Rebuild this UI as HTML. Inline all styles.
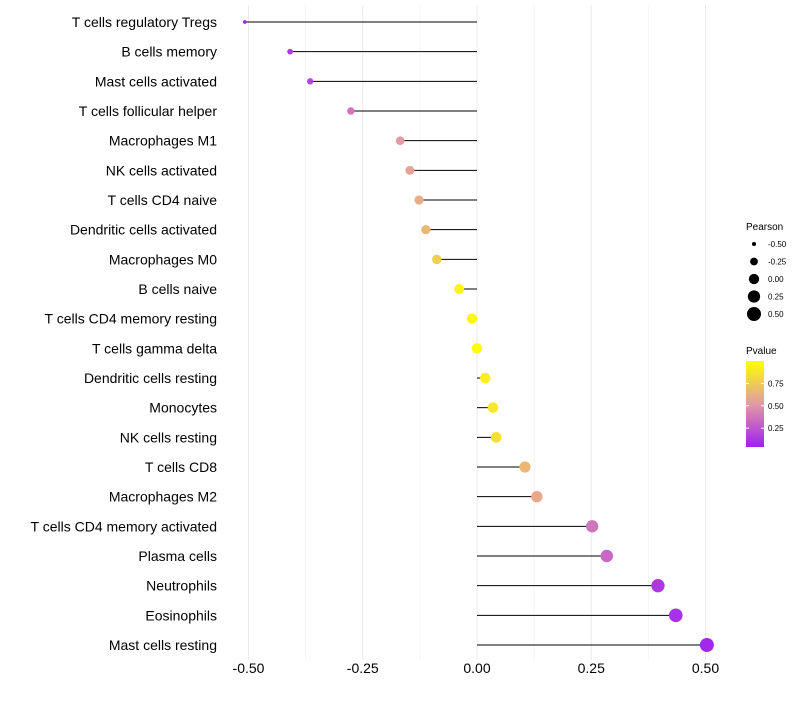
<!DOCTYPE html>
<html><head><meta charset="utf-8"><style>
body{margin:0;background:#fff;font-family:"Liberation Sans",sans-serif;}
</style></head><body>
<svg id="chart" width="800" height="700" xmlns="http://www.w3.org/2000/svg" font-family="Liberation Sans, sans-serif">
<g id="grid"></g>
<g id="marks"></g>
<g id="ylabels"></g>
<g id="xlabels"></g>
<g id="legend-size">
<text x="746" y="230" font-size="10" fill="#000">Pearson</text>
</g>
<g id="legend-color">
<defs><linearGradient id="pg" x1="0" y1="1" x2="0" y2="0">
<stop offset="0" stop-color="#A020F0"/><stop offset="0.5" stop-color="#E19AA6"/><stop offset="1" stop-color="#FFFF00"/>
</linearGradient></defs>
<text x="746" y="354" font-size="10" fill="#000">Pvalue</text>
<rect x="746" y="361" width="18" height="86" fill="url(#pg)"/>
</g>
</svg>
<script>
const categories=["T cells regulatory  Tregs","B cells memory","Mast cells activated","T cells follicular helper","Macrophages M1","NK cells activated","T cells CD4 naive","Dendritic cells activated","Macrophages M0","B cells naive","T cells CD4 memory resting","T cells gamma delta","Dendritic cells resting","Monocytes","NK cells resting","T cells CD8","Macrophages M2","T cells CD4 memory activated","Plasma cells","Neutrophils","Eosinophils","Mast cells resting"];
const pearson=[-0.508,-0.409,-0.365,-0.276,-0.168,-0.147,-0.127,-0.112,-0.088,-0.039,-0.011,0.0,0.018,0.035,0.042,0.105,0.131,0.252,0.284,0.396,0.435,0.503];
const pvalue=[0.03,0.1,0.15,0.35,0.5,0.55,0.6,0.65,0.75,0.95,0.98,1.0,0.92,0.88,0.85,0.65,0.58,0.35,0.3,0.1,0.07,0.03];
const xTicks=[-0.5,-0.25,0,0.25,0.5];
const xTickLabels=["-0.50","-0.25","0.00","0.25","0.50"];
const sizeLegendValues=[-0.5,-0.25,0,0.25,0.5];
const sizeLegendLabels=["-0.50","-0.25","0.00","0.25","0.50"];
const colorLegendValues=[0.25,0.5,0.75];
const colorLegendLabels=["0.25","0.50","0.75"];
const NS="http://www.w3.org/2000/svg";
const x=v=>477+v*457;
const y=i=>22+i*(623/21);
const r=v=>Math.sqrt(Math.max(1,4+(v+0.5)*45));
function hx(h){return [parseInt(h.slice(1,3),16),parseInt(h.slice(3,5),16),parseInt(h.slice(5,7),16)];}
const stops=[[0,hx("#A020F0")],[0.5,hx("#E19AA6")],[1,hx("#FFFF00")]];
function col(p){p=Math.max(0,Math.min(1,p));let a=stops[0],b=stops[1];if(p>0.5){a=stops[1];b=stops[2];}const t=(p-a[0])/(b[0]-a[0]);const c=a[1].map((v,k)=>Math.round(v+(b[1][k]-v)*t));return `rgb(${c.join(",")})`;}
function mk(tag,attrs,parent){const e=document.createElementNS(NS,tag);for(const k in attrs)e.setAttribute(k,attrs[k]);parent.appendChild(e);return e;}
const grid=document.getElementById('grid'),marks=document.getElementById('marks'),yl=document.getElementById('ylabels'),xl=document.getElementById('xlabels');
for(let t=-0.5;t<=0.5001;t+=0.125){const l=mk('line',{x1:x(t),x2:x(t),y1:5,y2:660,stroke:Math.abs((t*4)%1)<1e-6?'#ebebeb':'#f5f5f5','stroke-width':1},grid);

}
categories.forEach((c,i)=>{
const t=mk('text',{x:217,y:y(i)+5,'text-anchor':'end','font-size':14,fill:'#000'},yl);t.textContent=c;


const ln=mk('line',{x1:x(0),x2:x(pearson[i]),y1:y(i),y2:y(i),stroke:'#000','stroke-width':1},marks);


const d=mk('circle',{cx:x(pearson[i]),cy:y(i),r:r(pearson[i]),fill:col(pvalue[i])},marks);


});
xTicks.forEach((t,i)=>{const e=mk('text',{x:x(t),y:673,'text-anchor':'middle','font-size':14,fill:'#000'},xl);e.textContent=xTickLabels[i];

});
const ls=document.getElementById('legend-size');
sizeLegendValues.forEach((v,i)=>{const cy=244+i*17.5;
const c=mk('circle',{cx:754,cy:cy,r:r(v),fill:'#000'},ls);


const t=mk('text',{x:768,y:cy+3,'font-size':8,fill:'#000'},ls);t.textContent=sizeLegendLabels[i];

});
const lc=document.getElementById('legend-color');
colorLegendValues.forEach((v,i)=>{const cy=447-(v-0.04)/(1.0-0.04)*86;
const t=mk('text',{x:768,y:cy+3,'font-size':8,fill:'#000'},lc);t.textContent=colorLegendLabels[i];


mk('line',{x1:746,x2:749,y1:cy,y2:cy,stroke:'#fff'},lc);mk('line',{x1:761,x2:764,y1:cy,y2:cy,stroke:'#fff'},lc);});
</script>
</body></html>
